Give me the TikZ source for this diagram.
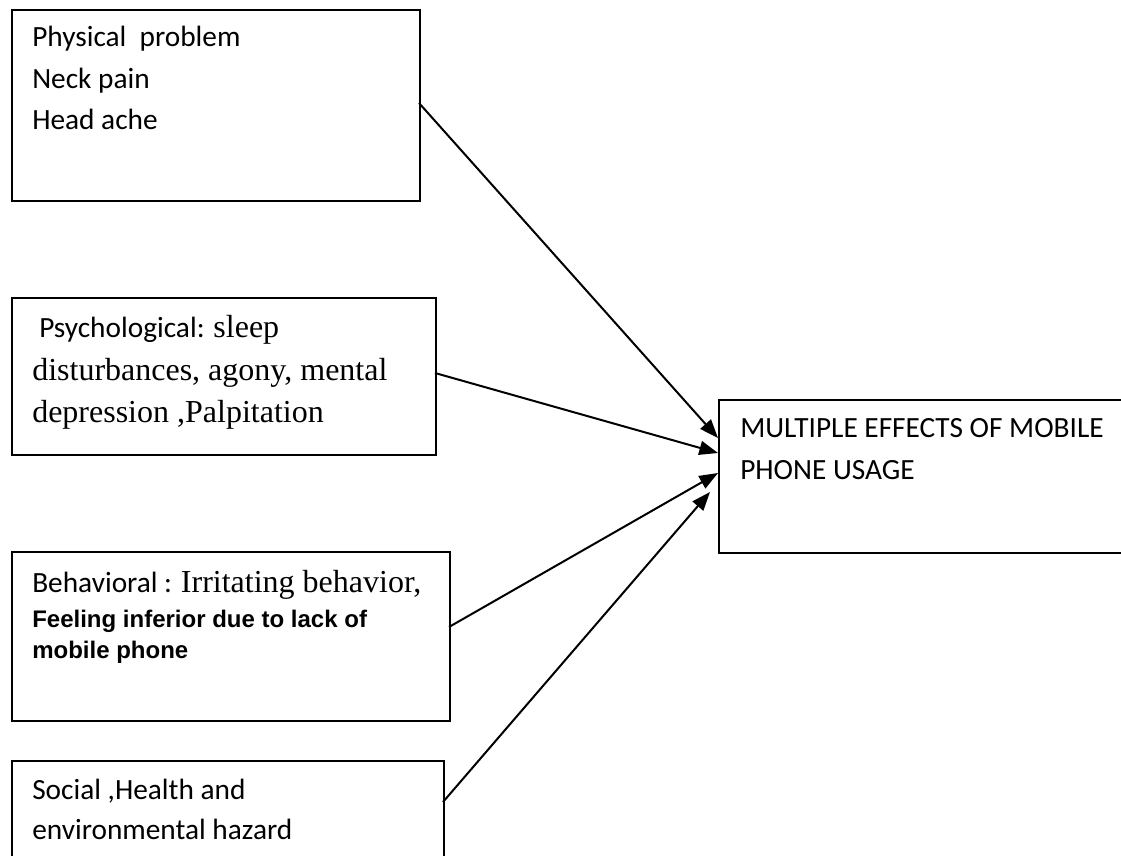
\documentclass[tikz,border=0pt]{standalone}
\usepackage{fontspec}
\newfontfamily\calfont{Carlito}
\newfontfamily\tnrfont{Liberation Serif}
\newfontfamily\arifont{Liberation Sans}
\usetikzlibrary{arrows.meta}
\begin{document}
\begin{tikzpicture}[x=0.75pt,y=-0.75pt,
  box/.style={draw,line width=1.3pt,rectangle,inner sep=0pt},
  txt/.style={anchor=base west,inner sep=0pt,font=\calfont\fontsize{22}{26}\selectfont},
  tnr/.style={anchor=base west,inner sep=0pt,font=\tnrfont\fontsize{24}{28}\selectfont},
  ari/.style={anchor=base west,inner sep=0pt,font=\arifont\bfseries\fontsize{18}{22}\selectfont},
  arr/.style={line width=1.5pt,-{Triangle[length=14pt,width=10.5pt]}}]
\useasboundingbox (0,0) rectangle (1121,856);
\clip (0,0) rectangle (1121,856);
% boxes
\node[box,minimum width=408*0.75pt,minimum height=191*0.75pt,anchor=north west] (b1) at (11,9) {};
\node[box,minimum width=424*0.75pt,minimum height=157*0.75pt,anchor=north west] (b2) at (11,297) {};
\node[box,minimum width=438*0.75pt,minimum height=169*0.75pt,anchor=north west] (b3) at (11,551) {};
\node[box,minimum width=432*0.75pt,minimum height=120*0.75pt,anchor=north west] (b4) at (11,760) {};
\node[box,minimum width=430*0.75pt,minimum height=153*0.75pt,anchor=north west] (t) at (718,399) {};
% texts
\node[txt] (l11) at (32,47) {Physical\ \ problem};
\node[txt] (l12) at (32,89) {Neck pain};
\node[txt] (l13) at (32,129) {Head ache};
\node[txt] (l21) at (39,337) {Psychological: {\tnrfont\fontsize{24}{28}\selectfont sleep}};
\node[tnr] (l22) at (32,380) {disturbances, agony, mental};
\node[tnr] (l23) at (32,422) {depression ,Palpitation};
\node[txt] (l31) at (32,592) {Behavioral : {\tnrfont\fontsize{24}{28}\selectfont Irritating behavior,}};
\node[ari] (l32) at (32,627) {Feeling inferior due to lack of};
\node[ari] (l33) at (32,658) {mobile phone};
\node[txt] (l41) at (32,799) {Social ,Health and};
\node[txt] (l42) at (32,839) {environmental hazard};
\node[txt] (tl1) at (740,437) {MULTIPLE EFFECTS OF MOBILE};
\node[txt] (tl2) at (740,479) {PHONE USAGE};
% connector ends
\coordinate (s1) at (419,103);
\coordinate (s2) at (435,373);
\coordinate (s3) at (449,627);
\coordinate (s4) at (443,802);
\coordinate (e1) at (718,438);
\coordinate (e2) at (718,453);
\coordinate (e3) at (718,473);
\coordinate (e4) at (710,492);
\draw[arr] (s1) -- (e1);
\draw[arr] (s2) -- (e2);
\draw[arr] (s3) -- (e3);
\draw[arr] (s4) -- (e4);
\end{tikzpicture}
\end{document}
